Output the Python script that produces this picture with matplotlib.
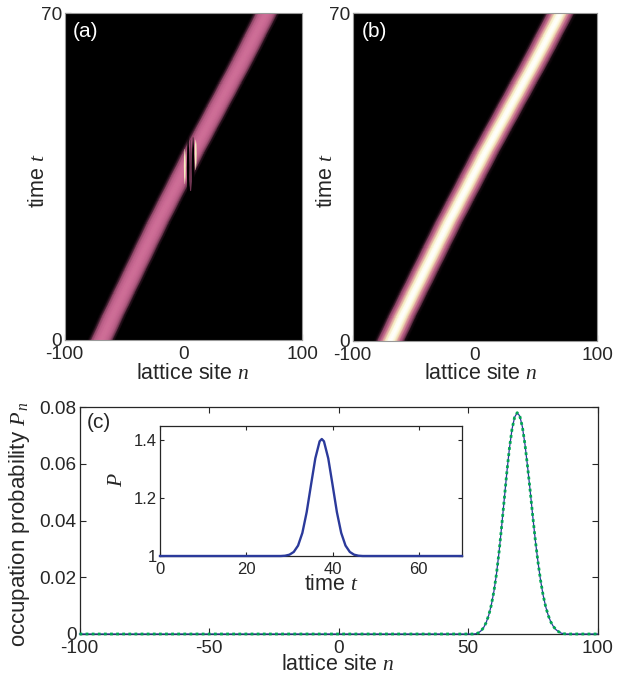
import numpy as np
import matplotlib
matplotlib.use('Agg')
import matplotlib.pyplot as plt
from matplotlib.colors import LinearSegmentedColormap

plt.rcParams['font.family'] = ['Liberation Sans', 'DejaVu Sans']
plt.rcParams['mathtext.fontset'] = 'custom'
plt.rcParams['mathtext.it'] = 'Liberation Serif:italic'
plt.rcParams['mathtext.rm'] = 'Liberation Serif'
plt.rcParams['axes.unicode_minus'] = False

# -----------------------------
# DATA
# -----------------------------
# beam centre against time, panels (a) and (b)
beam_t = [0, 5, 10, 15, 20, 25, 30, 35, 40, 45, 50, 55, 60, 65, 70]
beam_n = [-69, -60, -50.5, -41, -31.5, -22, -12, -2, 8, 18.5, 29, 39.5, 50, 60, 70]

# cross section of the beam, offset from centre in sites
beam_offset = [-14, -12, -10, -8, -6, -4, -2, 0, 2, 4, 6, 8, 10, 12, 14]
profile_a = [0.0, 0.0, 0.02, 0.09, 0.19, 0.26, 0.30, 0.31, 0.30, 0.26, 0.19, 0.09, 0.02, 0.0, 0.0]
profile_b = [0.0, 0.015, 0.08, 0.2, 0.42, 0.68, 0.92, 1.0, 0.92, 0.68, 0.42, 0.2, 0.08, 0.015, 0.0]

# dark and bright streaks at the defect in panel (a)
dark1_t = [31, 33, 37, 41, 43.5]
dark1_n = [3.6, 3.6, 3.6, 3.6, 3.6]
dark1_hw = [0.2, 0.8, 1.1, 0.8, 0.2]
dark2_t = [31, 33, 37, 41, 43.5]
dark2_n = [7.8, 7.8, 7.8, 7.8, 7.8]
dark2_hw = [0.2, 0.8, 1.1, 0.8, 0.2]
mid_t = [32, 34, 37, 40, 43]
mid_n = [5.7, 5.7, 5.7, 5.7, 5.7]
mid_hw = [0.4, 1.1, 1.2, 1.1, 0.4]
bright1_t = [33.5, 35, 37.5, 39.5, 41]
bright1_n = [0.8, 0.8, 0.8, 0.8, 0.8]
bright1_hw = [0.1, 0.6, 0.8, 0.6, 0.1]
bright2_t = [36.5, 38, 40, 42, 43]
bright2_n = [10, 10, 10, 10, 10]
bright2_hw = [0.1, 0.6, 0.8, 0.6, 0.1]

# panel (c)
peak_sites = list(range(53, 88))
peak_probs = [0.0001, 0.0004, 0.0011, 0.0022, 0.0040, 0.0066, 0.0102, 0.0150, 0.0212,
              0.0290, 0.0380, 0.0475, 0.0570, 0.0655, 0.0722, 0.0764, 0.0780, 0.0768,
              0.0730, 0.0668, 0.0590, 0.0505, 0.0415, 0.0330, 0.0255, 0.0190, 0.0137,
              0.0096, 0.0065, 0.0042, 0.0026, 0.0015, 0.0008, 0.0003, 0.0001]

# inset
inset_t = [0, 28, 29, 30, 31, 32, 33, 34, 35, 36, 37, 37.5, 38, 39, 40, 41, 42, 43, 44, 45, 46, 47, 70]
inset_p = [1.0, 1.0, 1.001, 1.0045, 1.014, 1.036, 1.08, 1.152, 1.246, 1.338, 1.397, 1.405, 1.397,
           1.338, 1.246, 1.152, 1.08, 1.036, 1.014, 1.0045, 1.001, 1.0, 1.0]

W, H = 623, 679
ink = '#262626'
beam_cmap = LinearSegmentedColormap.from_list(
    'beam', [(0, '#000000'), (0.03, '#3d1a2c'), (0.08, '#8a4464'), (0.18, '#b55c84'),
             (0.3, '#cd6c96'), (0.42, '#dc9c9c'), (0.6, '#f0dcb0'), (0.8, '#fcf8d0'), (1, '#ffffff')])


def px_axes(left, top, right, bottom):
    return fig.add_axes([left/W, 1-bottom/H, (right-left)/W, (bottom-top)/H])


def px_text(x, y, s, **kw):
    kw.setdefault('color', ink)
    kw.setdefault('fontsize', 15.5)
    fig.text(x/W, 1-y/H, s, ha='center', va='center', **kw)


def draw_beam(ax, profile):
    x = np.array(beam_n)[:, None] + np.array(beam_offset)[None, :]
    y = np.repeat(np.array(beam_t)[:, None], len(beam_offset), axis=1)
    c = np.repeat(np.array(profile)[None, :], len(beam_t), axis=0)
    ax.set_facecolor('black')
    ax.pcolormesh(x, y, c, shading='gouraud', cmap=beam_cmap, vmin=0, vmax=1, zorder=1)
    ax.set_xlim(-100, 100)
    ax.set_ylim(0, 70)
    ax.set_xticks([-100, 0, 100])
    ax.set_yticks([0, 70])
    ax.tick_params(labelsize=13.7, length=4, direction='in', color='black', labelcolor=ink)
    ax.tick_params(axis='x', pad=4.5)
    ax.tick_params(axis='y', pad=2)
    for s in ax.spines.values():
        s.set_color('#999999')
        s.set_linewidth(0.8)


def streak(ax, t, n, hw, color):
    t, n, hw = np.array(t), np.array(n), np.array(hw)
    ax.fill_betweenx(t, n-hw, n+hw, color=color, lw=0, zorder=3)


fig = plt.figure(figsize=(W/100, H/100), dpi=100)

# -----------------------------
# PANEL (a)
# -----------------------------
ax1 = px_axes(64.7, 13, 302, 340)
draw_beam(ax1, profile_a)
streak(ax1, mid_t, mid_n, mid_hw, '#6e3450')
streak(ax1, dark1_t, dark1_n, dark1_hw, 'black')
streak(ax1, dark2_t, dark2_n, dark2_hw, 'black')
streak(ax1, bright1_t, bright1_n, bright1_hw, '#f6eec0')
streak(ax1, bright2_t, bright2_n, bright2_hw, '#f6eec0')
ax1.text(0.035, 0.943, '(a)', transform=ax1.transAxes, color='white', fontsize=15, va='center')

# -----------------------------
# PANEL (b)
# -----------------------------
ax2 = px_axes(352.7, 13, 597, 340.5)
draw_beam(ax2, profile_b)
ax2.text(0.035, 0.943, '(b)', transform=ax2.transAxes, color='white', fontsize=15, va='center')

px_text(193, 373, 'lattice site $n$')
px_text(481, 373, 'lattice site $n$')
px_text(38, 181, 'time $t$', rotation=90)
px_text(327, 181, 'time $t$', rotation=90)

# -----------------------------
# PANEL (c)
# -----------------------------
sites = np.arange(-100, 101)
probs = np.zeros(len(sites))
probs[np.array(peak_sites)+100] = peak_probs

ax3 = px_axes(79.5, 407, 597.5, 634)
ax3.plot(sites, probs, color='#2b3a9b', lw=0.9, clip_on=False, zorder=3)
ax3.plot(sites, probs, color='#00a651', lw=2.0, ls=(0, (1, 1.2)), dash_capstyle='butt',
         clip_on=False, zorder=4)
ax3.set_xlim(-100, 100)
ax3.set_ylim(0, 0.08)
ax3.set_xticks([-100, -50, 0, 50, 100])
ax3.set_yticks([0, 0.02, 0.04, 0.06, 0.08])
ax3.set_yticklabels(['0', '0.02', '0.04', '0.06', '0.08'])
ax3.tick_params(labelsize=13.7, length=4, direction='in', top=True, right=True, color=ink, labelcolor=ink)
ax3.tick_params(axis='x', pad=4)
ax3.tick_params(axis='y', pad=2)
for s in ax3.spines.values():
    s.set_color(ink)
    s.set_linewidth(0.9)
ax3.text(0.014, 0.93, '(c)', transform=ax3.transAxes, color=ink, fontsize=15, va='center')
px_text(338, 665, 'lattice site $n$')
px_text(20, 524, 'occupation probability $P_{\\,n}$', rotation=90, fontsize=16)

# -----------------------------
# INSET
# -----------------------------
ax4 = px_axes(160, 426, 462, 556)
ax4.plot(inset_t, inset_p, color='#2b3a9b', lw=1.7, clip_on=False, zorder=3)
ax4.set_xlim(0, 70)
ax4.set_ylim(1, 1.45)
ax4.set_xticks([0, 20, 40, 60])
ax4.set_yticks([1, 1.2, 1.4])
ax4.set_yticklabels(['1', '1.2', '1.4'])
ax4.tick_params(labelsize=12, length=3, direction='in', top=True, right=True, color=ink, labelcolor=ink)
ax4.tick_params(axis='x', pad=4)
ax4.tick_params(axis='y', pad=2)
for s in ax4.spines.values():
    s.set_color(ink)
    s.set_linewidth(0.9)
px_text(331, 584, 'time $t$')
px_text(116, 480, '$P$', rotation=90)

fig.savefig('out.png', dpi=100)
